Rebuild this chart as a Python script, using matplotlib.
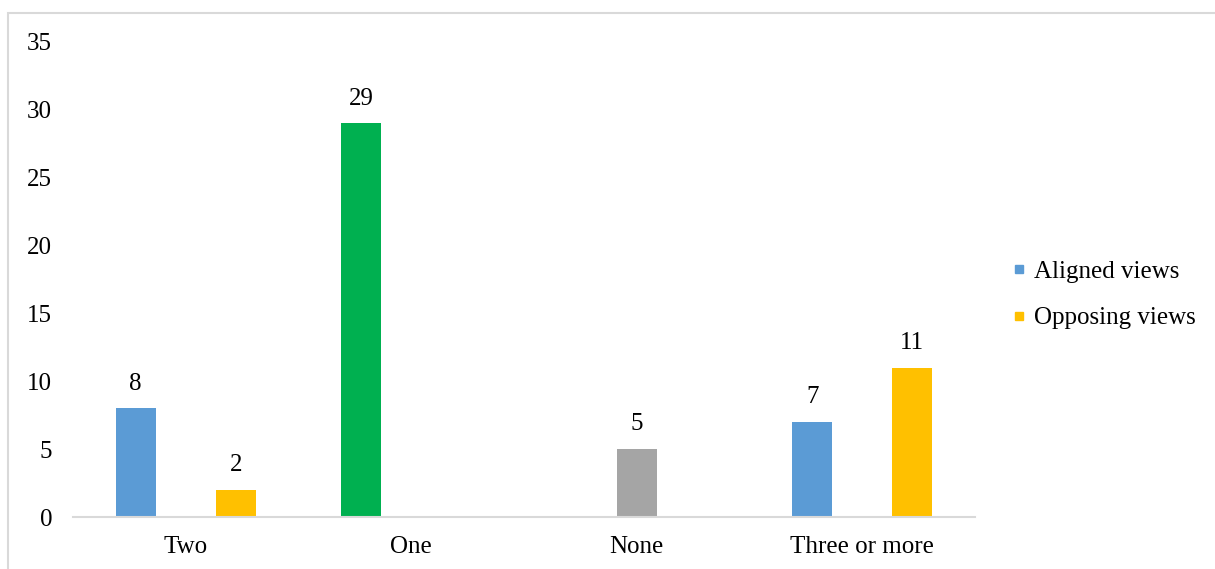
import matplotlib
matplotlib.use("Agg")
import matplotlib.pyplot as plt
from matplotlib.lines import Line2D
from matplotlib.patches import Rectangle
import numpy as np

plt.rcParams['font.family'] = ['Liberation Serif', 'DejaVu Serif']

# --- Data (three bar slots per category, nan = no bar) ---
categories = ["Two", "One", "None", "Three or more"]
aligned = [8, 29, np.nan, 7]
middle = [np.nan, np.nan, 5, np.nan]
opposing = [2, np.nan, np.nan, 11]

aligned_colors = ["#5B9BD5", "#00B050", "#5B9BD5", "#5B9BD5"]
middle_colors = ["#A5A5A5"] * 4
opposing_colors = ["#FFC000"] * 4

yticks = [0, 5, 10, 15, 20, 25, 30, 35]

W, H = 1215, 569
fig = plt.figure(figsize=(W / 100, H / 100), dpi=100)
ax = fig.add_axes([73 / W, 52 / H, 902 / W, 475 / H])

x = np.arange(len(categories))
offset = 0.222
width = 0.178
fs = 18

for vals, cols, off in [(aligned, aligned_colors, -offset),
                        (middle, middle_colors, 0.0),
                        (opposing, opposing_colors, offset)]:
    bars = ax.bar(x + off, vals, width=width, color=cols, zorder=2)
    for b, v in zip(bars, vals):
        if not np.isnan(v):
            ax.annotate(f"{int(v)}", (b.get_x() + b.get_width() / 2, v),
                        xytext=(0, 10), textcoords="offset points",
                        ha="center", va="bottom", fontsize=fs)

ax.set_xlim(-0.5, len(categories) - 0.5)
ax.set_ylim(0, 35)
ax.set_yticks(yticks)
ax.set_xticks(x)
ax.set_xticklabels(categories, fontsize=fs)
ax.tick_params(axis="y", length=0, pad=15, labelsize=fs)
ax.tick_params(axis="x", length=0, pad=14)

for s in ["top", "right", "left"]:
    ax.spines[s].set_visible(False)
ax.spines["bottom"].set_color("#D9D9D9")
ax.spines["bottom"].set_linewidth(1.5)

handles = [Line2D([], [], marker="s", linestyle="", color="#5B9BD5", markersize=6),
           Line2D([], [], marker="s", linestyle="", color="#FFC000", markersize=6)]
fig.legend(handles, ["Aligned views", "Opposing views"], loc="center left",
           bbox_to_anchor=(990 / W, (H - 295) / H), frameon=False, fontsize=fs,
           handlelength=0.5, handletextpad=0.35, labelspacing=0.95)

fig.add_artist(Rectangle((8 / W, -0.05), 1.0, (H - 13) / H + 0.05,
                         transform=fig.transFigure, fill=False,
                         edgecolor="#D9D9D9", linewidth=1.5))

fig.savefig("out.png", dpi=100)
